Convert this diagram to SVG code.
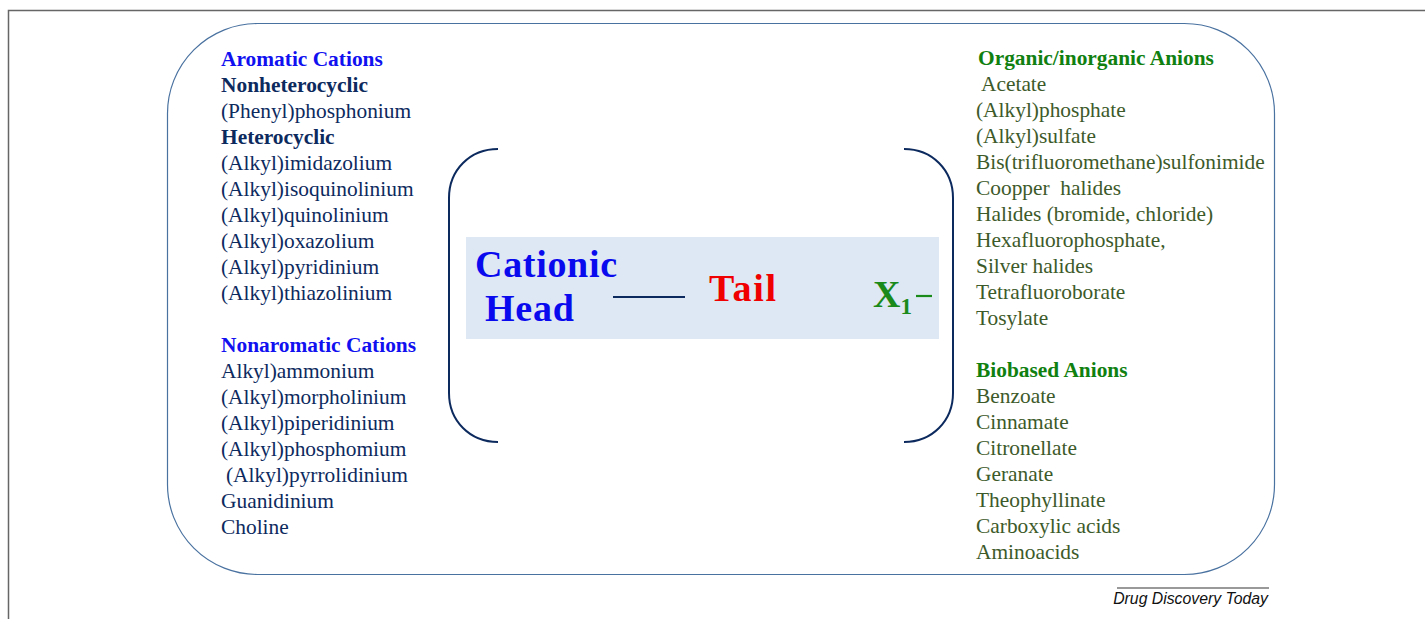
<svg xmlns="http://www.w3.org/2000/svg" width="1425" height="619" viewBox="0 0 1425 619">
<style>
text{font-family:"Liberation Serif","Times New Roman",serif;font-size:21.4px}
.hb{fill:#1010f0;font-weight:bold}
.nb{fill:#0d2a5e;font-weight:bold}
.n{fill:#0d2a5e}
.gh{fill:#108010;font-weight:bold}
.g{fill:#3d5a2a}
.br{fill:none;stroke:#0d2a5e;stroke-width:2}
.big{font-size:38px;font-weight:bold}
</style>
<rect width="1425" height="619" fill="#fff"/>
<g id="frame">
<path d="M8.5 619 V10.5 H1425" fill="none" stroke="#666" stroke-width="1.5"/>
</g>
<g id="container">
<rect x="167.5" y="23.5" width="1107" height="551" rx="90" ry="90" fill="none" stroke="#4a72a0" stroke-width="1.2"/>
</g>
<g id="cations">
<text x="221" y="66" class="hb">Aromatic Cations</text>
<text x="221" y="92" class="nb">Nonheterocyclic</text>
<text x="221" y="118" class="n">(Phenyl)phosphonium</text>
<text x="221" y="144" class="nb">Heterocyclic</text>
<text x="221" y="170" class="n">(Alkyl)imidazolium</text>
<text x="221" y="196" class="n">(Alkyl)isoquinolinium</text>
<text x="221" y="222" class="n">(Alkyl)quinolinium</text>
<text x="221" y="248" class="n">(Alkyl)oxazolium</text>
<text x="221" y="274" class="n">(Alkyl)pyridinium</text>
<text x="221" y="300" class="n">(Alkyl)thiazolinium</text>
<text x="221" y="352" class="hb">Nonaromatic Cations</text>
<text x="221" y="378" class="n">Alkyl)ammonium</text>
<text x="221" y="404" class="n">(Alkyl)morpholinium</text>
<text x="221" y="430" class="n">(Alkyl)piperidinium</text>
<text x="221" y="456" class="n">(Alkyl)phosphomium</text>
<text x="226" y="482" class="n">(Alkyl)pyrrolidinium</text>
<text x="221" y="508" class="n">Guanidinium</text>
<text x="221" y="534" class="n">Choline</text>
</g>
<g id="anions">
<text x="978" y="65" class="gh">Organic/inorganic Anions</text>
<text x="981" y="91" class="g">Acetate</text>
<text x="976" y="117" class="g">(Alkyl)phosphate</text>
<text x="976" y="143" class="g">(Alkyl)sulfate</text>
<text x="976" y="169" class="g">Bis(trifluoromethane)sulfonimide</text>
<text x="976" y="195" class="g" xml:space="preserve">Coopper  halides</text>
<text x="976" y="221" class="g">Halides (bromide, chloride)</text>
<text x="976" y="247" class="g">Hexafluorophosphate,</text>
<text x="976" y="273" class="g">Silver halides</text>
<text x="976" y="299" class="g">Tetrafluoroborate</text>
<text x="976" y="325" class="g">Tosylate</text>
<text x="976" y="377" class="gh">Biobased Anions</text>
<text x="976" y="403" class="g">Benzoate</text>
<text x="976" y="429" class="g">Cinnamate</text>
<text x="976" y="455" class="g">Citronellate</text>
<text x="976" y="481" class="g">Geranate</text>
<text x="976" y="507" class="g">Theophyllinate</text>
<text x="976" y="533" class="g">Carboxylic acids</text>
<text x="976" y="559" class="g">Aminoacids</text>
</g>
<g id="structure">
<path class="br" d="M498 149 C470 149 449 170 449 198 V393 C449 421 470 442 498 442"/>
<path class="br" d="M904 149 C932 149 953 170 953 198 V393 C953 421 932 442 904 442"/>
<rect x="466" y="237" width="473" height="102" fill="#dde8f4"/>
<text x="475" y="277" class="big" fill="#0a0aee" textLength="142">Cationic</text>
<text x="485" y="321" class="big" fill="#0a0aee" textLength="89">Head</text>
<line x1="613" y1="297" x2="685" y2="297" stroke="#0d2a5e" stroke-width="2.2"/>
<text x="709" y="301" class="big" fill="#f00000" textLength="67">Tail</text>
<text x="873" y="307" class="big" fill="#1a8a1a">X<tspan dy="7" style="font-size:23px">1</tspan></text>
<line x1="916" y1="296" x2="932" y2="296" stroke="#1a8a1a" stroke-width="2.2"/>
</g>
<g id="credit">
<line x1="1117" y1="588" x2="1269" y2="588" stroke="#777" stroke-width="1.5"/>
<text x="1268" y="604" text-anchor="end" style="font-family:'Liberation Sans',Arial,sans-serif;font-size:15.8px;font-style:italic;fill:#111">Drug Discovery Today</text>
</g>
</svg>
